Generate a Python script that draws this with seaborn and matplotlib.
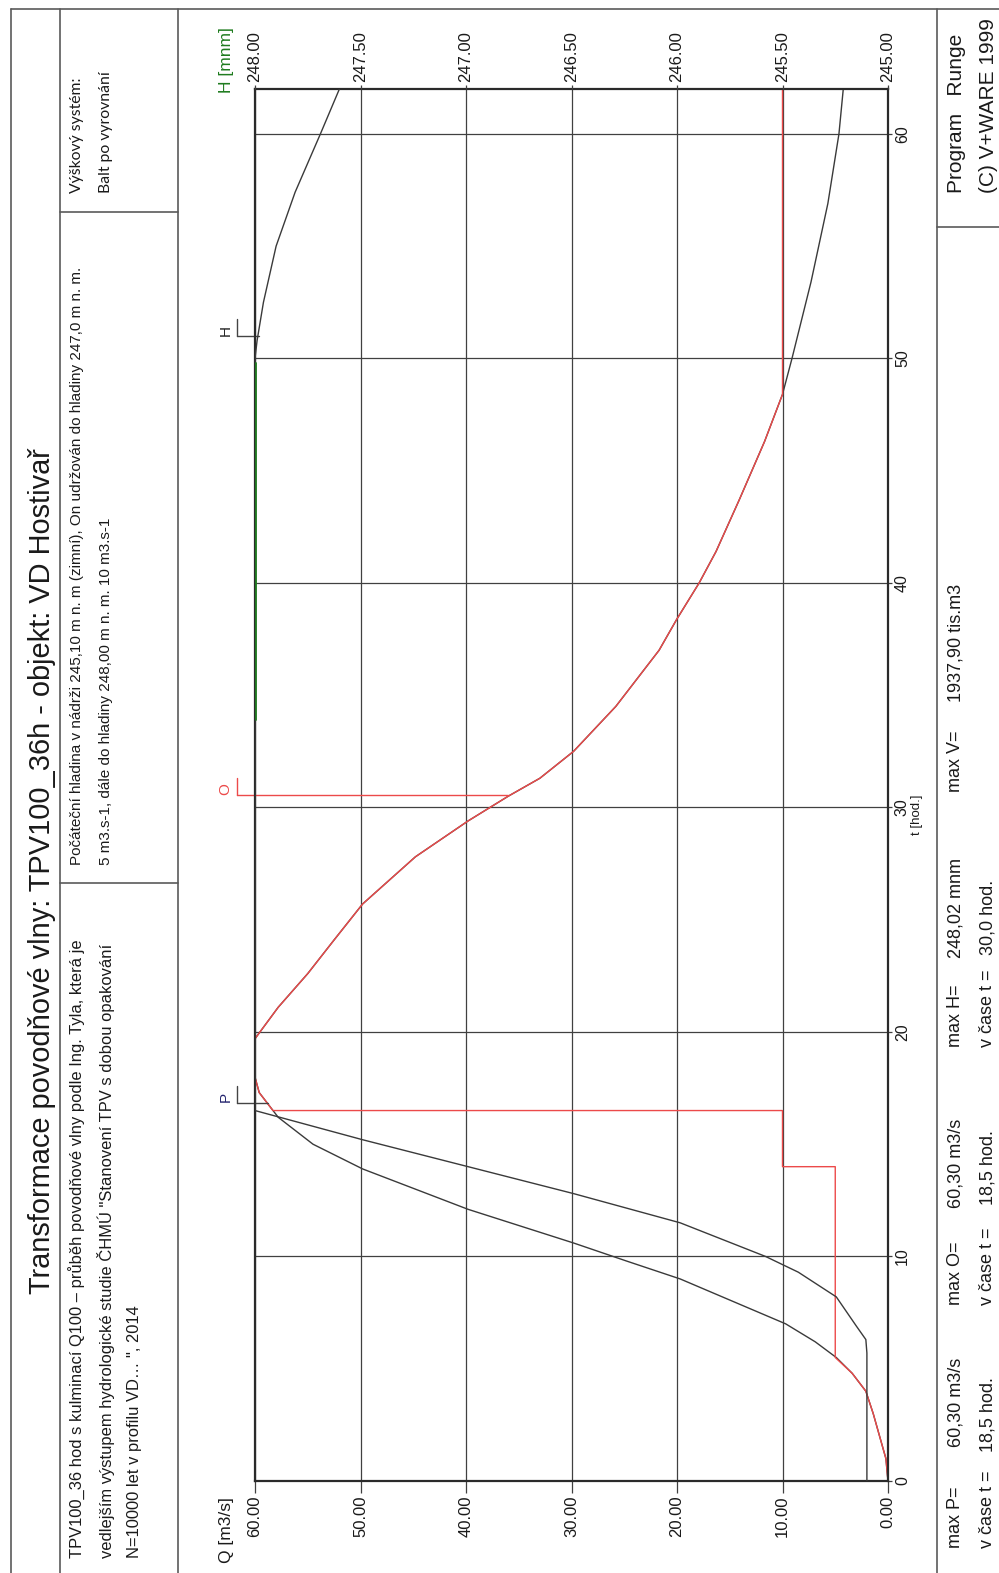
import numpy as np
import pandas as pd
import matplotlib
matplotlib.use("Agg")
import matplotlib.pyplot as plt
import seaborn as sns
from matplotlib.lines import Line2D
from matplotlib import font_manager

# ---------------- data ----------------
# inflow P [m3/s] vs time t [hod.]
t_P = [0, 1, 2, 3, 4, 4.8, 5.5, 6.2, 7.0, 8.0, 9.0, 9.8, 10.6, 11.35, 12.1, 13.0, 13.9,
       15.0, 16.2, 17.3, 18.5, 19.7, 21.1, 22.6, 24.1, 25.7, 27.8, 29.4, 30.5, 31.3,
       32.5, 34.5, 37.0, 38.4, 40.0, 41.4, 43.7, 46.3, 48.4, 50.0, 53.4, 56.9, 60.0, 62.0]
Q_P = [0.0, 0.2, 0.8, 1.4, 2.1, 3.4, 4.9, 6.9, 9.7, 14.7, 19.7, 24.8, 29.8, 34.8, 39.8,
       44.8, 49.8, 54.5, 57.8, 59.6, 60.3, 60.0, 57.8, 55.0, 52.5, 49.8, 44.8, 39.8,
       36.0, 33.0, 29.8, 25.8, 21.7, 20.0, 17.9, 16.3, 14.1, 11.7, 10.0, 9.1, 7.3, 5.7,
       4.65, 4.24]

# outflow O [m3/s]
t_O = [0, 1, 2, 3, 4, 4.8, 5.5, 14.0, 14.0, 16.5, 16.5, 17.3, 18.5, 19.7, 21.1, 22.6,
       24.1, 25.7, 27.8, 29.4, 30.5, 31.3, 32.5, 34.5, 37.0, 38.4, 40.0, 41.4, 43.7,
       46.3, 48.4, 62.0]
Q_O = [0.0, 0.2, 0.8, 1.4, 2.1, 3.4, 5.0, 5.0, 10.0, 10.0, 58.3, 59.6, 60.3, 60.0, 57.8,
       55.0, 52.5, 49.8, 44.8, 39.8, 36.0, 33.0, 29.8, 25.8, 21.7, 20.0, 17.9, 16.3,
       14.1, 11.7, 10.0, 10.0]

# water level H [m n. m.]
t_H = [0, 5.7, 6.3, 6.9, 8.2, 9.3, 10.0, 11.5, 12.8, 14.0, 15.2, 16.5, 30.0, 50.0,
       50.8, 52.5, 55.0, 57.4, 60.0, 62.0]
H_lvl = [245.10, 245.10, 245.105, 245.15, 245.245, 245.425, 245.58, 245.985, 246.49,
         246.99, 247.49, 248.00, 248.00, 248.00, 247.99, 247.96, 247.90, 247.81,
         247.69, 247.60]
t_H_green = [33.9, 49.8]
H_green = [247.995, 247.995]

q_ticks = [0, 10, 20, 30, 40, 50, 60]
h_ticks = [245.0, 245.5, 246.0, 246.5, 247.0, 247.5, 248.0]
t_ticks = [0, 10, 20, 30, 40, 50, 60]

marker_labels = ["P", "O", "H"]
marker_t = [16.85, 30.55, 51.0]
marker_q = [58.8, 36.0, 59.6]

title = "Transformace povodňové vlny: TPV100_36h - objekt: VD Hostivař"
box1 = ["Výškový systém:", "Balt po vyrovnání"]
box2 = ["Počáteční hladina v nádrži 245,10 m n. m (zimní), On udržován do hladiny 247,0 m n. m.",
        "5 m3.s-1, dále do hladiny 248,00 m n. m. 10 m3.s-1"]
box3 = ["TPV100_36 hod s kulminací Q100 – průběh povodňové vlny podle Ing. Tyla, která je",
        "vedlejším výstupem hydrologické studie ČHMÚ \"Stanovení TPV s dobou opakování",
        "N=10000 let v profilu VD… \", 2014"]

stat_names = ["max P=", "max O=", "max H=", "max V="]
stat_values = ["60,30 m3/s", "60,30 m3/s", "248,02 mnm", "1937,90 tis.m3"]
stat_time_label = "v čase t ="
stat_times = ["18,5 hod.", "18,5 hod.", "30,0 hod."]
program = ["Program   Runge", "(C) V+WARE 1999"]

# ---------------- style ----------------
sns.set_theme(style="white")
plt.rcParams["font.family"] = ["Liberation Sans", "DejaVu Sans"]
names = {f.name for f in font_manager.fontManager.ttflist}
narrow = ["Liberation Sans Narrow", "Liberation Sans", "DejaVu Sans"] if "Liberation Sans Narrow" in names \
    else ["Liberation Sans", "DejaVu Sans"]
box1_font = ["Lato", "Liberation Sans", "DejaVu Sans"]

W, H = 999, 1573
fig = plt.figure(figsize=(W / 100, H / 100), dpi=100)
fig.patch.set_facecolor("white")

def fx(x):
    return x / W

def fy(y):
    return 1 - y / H

GRID = "#404040"
CURVE = "#3a3a3a"
RED = "#ec4a4a"
GREEN = "#1e7b1e"

# ---------------- page frame lines ----------------
segs = [((11, 9), (999, 9)), ((11, 9), (11, 1573)), ((60, 9), (60, 1573)),
        ((178, 9), (178, 1573)), ((937, 9), (937, 1573)), ((60, 212), (178, 212)),
        ((60, 883), (178, 883)), ((937, 227), (999, 227))]
for (x0, y0), (x1, y1) in segs:
    fig.add_artist(Line2D([fx(x0), fx(x1)], [fy(y0), fy(y1)], transform=fig.transFigure,
                          color="#5a5a5a", lw=1.2))

# ---------------- main axes ----------------
L, R, T, B = 255, 888, 89, 1481
ax = fig.add_axes([fx(L), fy(B), (R - L) / W, (B - T) / H])
ax.set_facecolor("white")

sns.lineplot(x=Q_P, y=t_P, ax=ax, orient="y", sort=False, estimator=None,
             color=CURVE, lw=1.0)
sns.lineplot(x=Q_O, y=t_O, ax=ax, orient="y", sort=False, estimator=None,
             color=RED, lw=1.0)

ax.set_xlim(60, 0)
ax.set_ylim(0, 62)
ax.set_xticks(q_ticks)
ax.set_xticklabels([f"{v:.2f}" for v in q_ticks], rotation=90)
ax.set_yticks(t_ticks)
ax.set_yticklabels([str(v) for v in t_ticks], rotation=90, va="center")
ax.yaxis.tick_right()
ax.tick_params(axis="x", direction="out", length=8.5, width=0.9, pad=2,
               labelsize=12, color=GRID, labelcolor="#1a1a1a")
ax.tick_params(axis="y", direction="out", length=3, width=0.9, pad=2,
               labelsize=11.5, color=GRID, labelcolor="#1a1a1a")
ax.grid(True, color=GRID, lw=0.9)
for s in ax.spines.values():
    s.set_linewidth(1.6)
    s.set_color("#2a2a2a")

ax.set_xlabel("Q [m3/s]", rotation=90, fontsize=12.5, ha="center", va="center",
              color="#1a1a1a")
ax.xaxis.set_label_coords((226 - L) / (R - L), -(1530 - B) / (B - T))
ax.yaxis.set_label_position("right")
ax.set_ylabel("t [hod.]", rotation=90, fontsize=9.5, ha="center", va="center",
              color="#1a1a1a")
ax.yaxis.set_label_coords((917 - L) / (R - L), (B - 815) / (B - T))

# markers
marker_label_colors = ["#23236e", RED, "#222222"]
marker_line_colors = ["#444444", RED, "#444444"]
for lab, tm, qe, lc, mc in zip(marker_labels, marker_t, marker_q,
                               marker_label_colors, marker_line_colors):
    ax.plot([61.75, qe], [tm, tm], color=mc, lw=1.0, clip_on=False)
    ax.plot([61.75, 61.75], [tm, tm + 0.75], color=mc, lw=1.0, clip_on=False)
    ax.text(62.8, tm + 0.25, lab, rotation=90, color=lc, fontsize=11,
            ha="center", va="center", clip_on=False)

# secondary axis: water level H
ax2 = ax.twiny()
sns.lineplot(x=H_lvl, y=t_H, ax=ax2, orient="y", sort=False, estimator=None,
             color=CURVE, lw=1.0)
sns.lineplot(x=H_green, y=t_H_green, ax=ax2, orient="y", sort=False, estimator=None,
             color=GREEN, lw=1.3)
ax2.set_xlim(248, 245)
ax2.set_ylim(0, 62)
ax2.set_xticks(h_ticks)
ax2.set_xticklabels([f"{v:.2f}" for v in h_ticks], rotation=90)
ax2.tick_params(axis="x", direction="out", length=3, width=0.9, pad=2,
                labelsize=12, color=GRID, labelcolor="#1a1a1a")
ax2.grid(False)
for s in ax2.spines.values():
    s.set_visible(False)
ax2.set_xlabel("H [mnm]", rotation=90, fontsize=12.5, color=GREEN,
               ha="center", va="center")
ax2.xaxis.set_label_coords((226 - L) / (R - L), 1 + (T - 60) / (B - T))
ax2.set_ylabel("")

# ---------------- texts ----------------
def vtext(x, y, s, size, va="bottom", family=None, **kw):
    kw2 = dict(rotation=90, ha="center", va=va, fontsize=size, color="#1a1a1a")
    kw2.update(kw)
    if family is not None:
        kw2["family"] = family
    return fig.text(fx(x), fy(y), s, **kw2)

title_t = vtext(42, 871, title, 20, va="center")

b1 = [vtext(77, 193, box1[0], 10.5, family=box1_font),
      vtext(106, 193, box1[1], 10.5, family=box1_font)]
b2 = [vtext(77, 865, box2[0], 10.5, family=narrow),
      vtext(106, 865, box2[1], 10.5, family=narrow)]
b3 = [vtext(77, 1558, box3[0], 10.5, family=narrow),
      vtext(106, 1558, box3[1], 10.5, family=narrow),
      vtext(135, 1558, box3[2], 10.5, family=narrow)]

name_y = [1548, 1305, 1047, 792]
value_y = [1447, 1208, 958, 702]
time_y = [1452, 1205, 955]
for s, y in zip(stat_names, name_y):
    vtext(956, y, s, 13)
for s, y in zip(stat_values, value_y):
    vtext(956, y, s, 13)
for s, y in zip(stat_times, time_y):
    vtext(988, y, s, 13)
for y in name_y[:3]:
    vtext(988, y, stat_time_label, 13)

vtext(956, 193, program[0], 15)
vtext(988, 193, program[1], 15)

# fit text lengths to the reference
renderer = fig.canvas.get_renderer()
def fit(txts, target):
    bb = txts[0].get_window_extent(renderer)
    size = txts[0].get_fontsize() * target / bb.height
    for tx in txts:
        tx.set_fontsize(size)

fit([title_t], 846)
fit(b1, 116)
fit(b2, 604)
fit(b3, 622)

fig.savefig("out.png", dpi=100, facecolor="white")
